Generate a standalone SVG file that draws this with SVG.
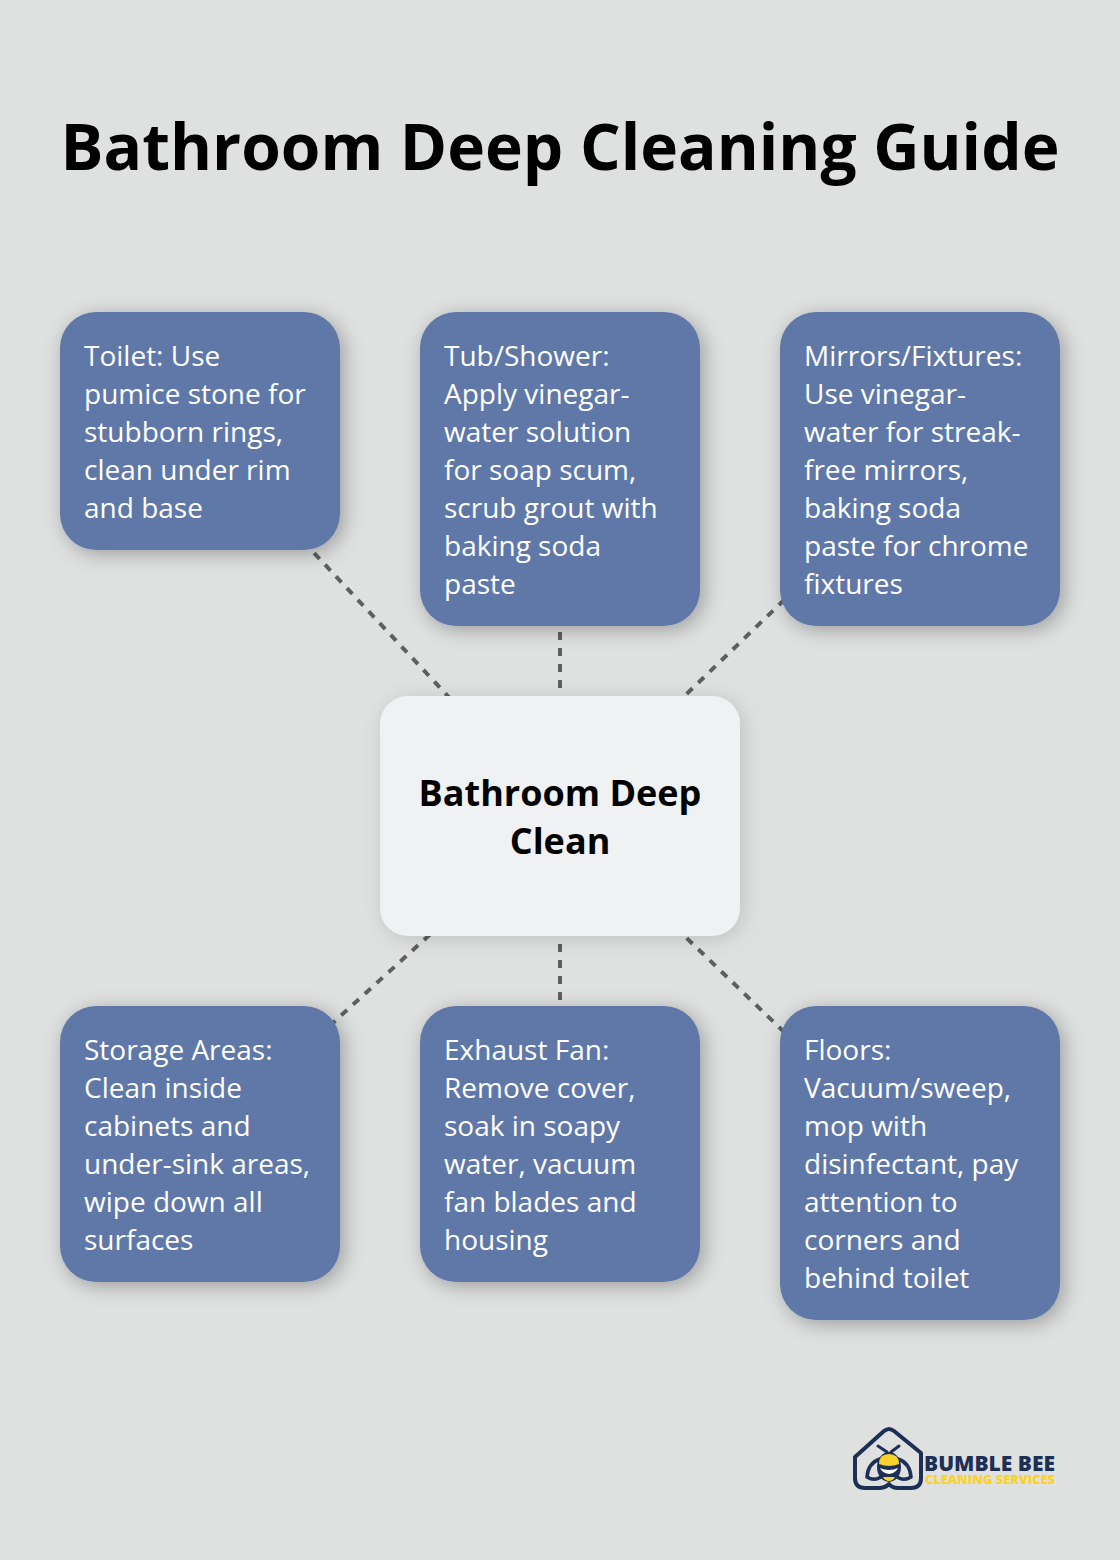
<svg xmlns="http://www.w3.org/2000/svg" width="1120" height="1560" viewBox="0 0 1120 1560">
<defs>
<style>
text{font-family:"Open Sans","Noto Sans","Liberation Sans",sans-serif}
.t{font-size:28px;fill:#fff}
.box{fill:#5e78a8;filter:url(#sh)}
.ctr{fill:#eff1f2;filter:url(#sh2)}
.c{stroke:#5f5f5f;stroke-width:4;stroke-dasharray:8 8;fill:none}
.h{font-weight:700;font-size:36px;fill:#000;text-anchor:middle}
.nv{fill:none;stroke:#1d2f55;stroke-width:4;stroke-linejoin:round;stroke-linecap:round}
</style>
<filter id="sh" x="-25%" y="-25%" width="155%" height="155%"><feDropShadow dx="4" dy="4" stdDeviation="10" flood-color="#000" flood-opacity=".3"/></filter>
<filter id="sh2" x="-25%" y="-25%" width="150%" height="150%"><feDropShadow dx="3" dy="3" stdDeviation="10" flood-color="#000" flood-opacity=".14"/></filter>
</defs>
<rect width="1120" height="1560" fill="#dfe1e0"/>
<text id="title" x="560" y="170" font-size="64" font-weight="700" text-anchor="middle" fill="#000">Bathroom Deep Cleaning Guide</text>
<g id="connectors">
<line class="c" x1="560" y1="816" x2="200" y2="431"/>
<line class="c" x1="560" y1="816" x2="560" y2="469"/>
<line class="c" x1="560" y1="816" x2="920" y2="469"/>
<line class="c" x1="560" y1="816" x2="200" y2="1144"/>
<line class="c" x1="560" y1="816" x2="560" y2="1144"/>
<line class="c" x1="560" y1="816" x2="920" y2="1163"/>
</g>
<g id="node-toilet"><rect class="box" x="60" y="312" width="280" height="238" rx="36"/>
<text class="t" x="84" y="366">Toilet: Use</text><text class="t" x="84" y="404">pumice stone for</text><text class="t" x="84" y="442">stubborn rings,</text><text class="t" x="84" y="480">clean under rim</text><text class="t" x="84" y="518">and base</text></g>
<g id="node-tub"><rect class="box" x="420" y="312" width="280" height="314" rx="36"/>
<text class="t" x="444" y="366">Tub/Shower:</text><text class="t" x="444" y="404">Apply vinegar-</text><text class="t" x="444" y="442">water solution</text><text class="t" x="444" y="480">for soap scum,</text><text class="t" x="444" y="518">scrub grout with</text><text class="t" x="444" y="556">baking soda</text><text class="t" x="444" y="594">paste</text></g>
<g id="node-mirrors"><rect class="box" x="780" y="312" width="280" height="314" rx="36"/>
<text class="t" x="804" y="366">Mirrors/Fixtures:</text><text class="t" x="804" y="404">Use vinegar-</text><text class="t" x="804" y="442">water for streak-</text><text class="t" x="804" y="480">free mirrors,</text><text class="t" x="804" y="518">baking soda</text><text class="t" x="804" y="556">paste for chrome</text><text class="t" x="804" y="594">fixtures</text></g>
<g id="node-storage"><rect class="box" x="60" y="1006" width="280" height="276" rx="36"/>
<text class="t" x="84" y="1060">Storage Areas:</text><text class="t" x="84" y="1098">Clean inside</text><text class="t" x="84" y="1136">cabinets and</text><text class="t" x="84" y="1174">under-sink areas,</text><text class="t" x="84" y="1212">wipe down all</text><text class="t" x="84" y="1250">surfaces</text></g>
<g id="node-fan"><rect class="box" x="420" y="1006" width="280" height="276" rx="36"/>
<text class="t" x="444" y="1060">Exhaust Fan:</text><text class="t" x="444" y="1098">Remove cover,</text><text class="t" x="444" y="1136">soak in soapy</text><text class="t" x="444" y="1174">water, vacuum</text><text class="t" x="444" y="1212">fan blades and</text><text class="t" x="444" y="1250">housing</text></g>
<g id="node-floors"><rect class="box" x="780" y="1006" width="280" height="314" rx="36"/>
<text class="t" x="804" y="1060">Floors:</text><text class="t" x="804" y="1098">Vacuum/sweep,</text><text class="t" x="804" y="1136">mop with</text><text class="t" x="804" y="1174">disinfectant, pay</text><text class="t" x="804" y="1212">attention to</text><text class="t" x="804" y="1250">corners and</text><text class="t" x="804" y="1288">behind toilet</text></g>
<g id="node-center"><rect class="ctr" x="380" y="696" width="360" height="240" rx="28"/>
<text class="h" x="560" y="806">Bathroom Deep</text><text class="h" x="560" y="854">Clean</text></g>
<g id="logo">
<path class="nv" d="M855 1457 L884 1431 Q889 1427 894 1431 L921 1453 L921 1478 Q921 1488 911 1488 L898 1488 Q892 1488 889 1484 Q885 1488 879 1488 L865 1488 Q855 1488 855 1478 Z"/>
<path class="nv" style="stroke-width:3" d="M878 1446 L887 1452 M899 1446 L891 1452"/>
<path class="nv" style="stroke-width:3.5" d="M880 1459 Q868 1463 867 1477 Q875 1482 882 1476 M898 1459 Q910 1463 911 1477 Q903 1482 896 1476"/>
<ellipse cx="889" cy="1467" rx="12" ry="15" fill="#1d2f55"/>
<path d="M879 1464 Q879 1454 889 1454 Q899 1454 899 1464 Q889 1468 879 1464 Z" fill="#fbd22a"/>
<path d="M880 1468 Q889 1472 898 1468 Q896 1473 889 1474 Q882 1473 880 1468Z" fill="#fff"/>
<path d="M883 1477 H895 Q893 1481 889 1481 Q885 1481 883 1477Z" fill="#fbd22a"/>
<text x="924" y="1471" font-size="21" font-weight="800" fill="#1d2f55" textLength="131" lengthAdjust="spacingAndGlyphs">BUMBLE BEE</text>
<text x="925" y="1484" font-size="12" font-weight="800" fill="#fbd22a" textLength="130" lengthAdjust="spacingAndGlyphs">CLEANING SERVICES</text>
</g>
</svg>
